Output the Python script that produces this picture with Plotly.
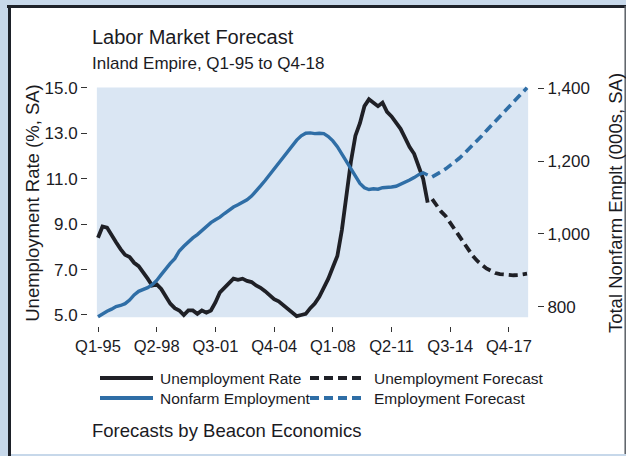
import plotly.graph_objects as go

# ---------------- data ----------------
QUARTERS = [f"Q{q}-{y % 100:02d}" for y in range(1995, 2019) for q in range(1, 5)]
TICK_LABELS = ["Q1-95", "Q2-98", "Q3-01", "Q4-04", "Q1-08", "Q2-11", "Q3-14", "Q4-17"]
LEFT_TICKS = [5.0, 7.0, 9.0, 11.0, 13.0, 15.0]
RIGHT_TICKS = [800, 1000, 1200, 1400]

UNEMP_ACTUAL = [
    8.4, 8.9, 8.85, 8.5, 8.2, 7.9, 7.65, 7.55, 7.3, 7.15,
    6.9, 6.6, 6.3, 6.35, 6.15, 5.85, 5.5, 5.3, 5.2, 5.0,
    5.2, 5.2, 5.05, 5.2, 5.1, 5.2, 5.55, 6.0, 6.2, 6.35,
    6.6, 6.55, 6.6, 6.5, 6.45, 6.3, 6.2, 6.05, 5.85, 5.7,
    5.6, 5.45, 5.3, 5.15, 4.95, 5.0, 5.05, 5.3, 5.5, 5.8,
    6.2, 6.6, 7.1, 7.6, 8.74, 10.3, 11.75, 12.9, 13.45, 14.2,
    14.5, 14.35, 14.2, 14.35, 13.95, 13.75, 13.5, 13.2, 12.8, 12.4,
    12.1, 11.6, 11.0, 9.95,
]
UNEMP_FORECAST = [
    10.1, 9.8, 9.55, 9.35, 9.05, 8.75, 8.45, 8.15, 7.85, 7.6,
    7.38, 7.2, 7.05, 6.95, 6.85, 6.8, 6.77, 6.75, 6.75, 6.76,
    6.8, 6.82,
]
EMP_ACTUAL = [
    772, 780, 787, 793, 800, 803, 808, 818, 832, 842,
    846, 852, 860, 872, 888, 905, 919, 932, 953, 966,
    979, 989, 998, 1010, 1022, 1031, 1039, 1046, 1056, 1066,
    1074, 1080, 1087, 1094, 1104, 1117, 1132, 1147, 1163, 1179,
    1194, 1210, 1226, 1242, 1258, 1270, 1277, 1278, 1276, 1277,
    1276, 1268, 1256, 1240, 1220, 1198, 1177, 1157, 1139, 1127,
    1122, 1124, 1123, 1127, 1127, 1129, 1131, 1136, 1142, 1148,
    1155, 1163, 1168, 1162,
]
EMP_FORECAST = [
    1157, 1163, 1171, 1179, 1188, 1198, 1208, 1220, 1232, 1245,
    1257, 1270, 1284, 1297, 1309, 1322, 1335, 1348, 1362, 1377,
    1390, 1402,
]

N_ACT = len(UNEMP_ACTUAL)
X_ACT = QUARTERS[:N_ACT]
X_FC = QUARTERS[N_ACT:]

# ---------------- styling ----------------
FONT = "Liberation Sans, Arial, Helvetica, sans-serif"
TXT = "#1b1b1f"
BLACK = "#1f2026"
BLUE = "#2f6ea6"
DASH = "9px,5px"
W, H = 626, 456
L, R, T, B = 88, 537, 80, 326


def px2x(px):
    return (px - L) / (R - L)


def py2y(py):
    return (B - py) / (B - T)


fig = go.Figure()
fig.add_trace(go.Scatter(x=X_ACT, y=EMP_ACTUAL, mode="lines", yaxis="y2",
                         line=dict(color=BLUE, width=3.4), name="Nonfarm Employment",
                         showlegend=False))
fig.add_trace(go.Scatter(x=X_FC, y=EMP_FORECAST, mode="lines", yaxis="y2",
                         line=dict(color=BLUE, width=3.6, dash=DASH),
                         name="Employment Forecast", showlegend=False))
fig.add_trace(go.Scatter(x=X_ACT, y=UNEMP_ACTUAL, mode="lines",
                         line=dict(color=BLACK, width=3.8), name="Unemployment Rate",
                         showlegend=False))
fig.add_trace(go.Scatter(x=X_FC, y=UNEMP_FORECAST, mode="lines",
                         line=dict(color=BLACK, width=3.8, dash=DASH),
                         name="Unemployment Forecast", showlegend=False))

shapes = [
    # white panel with frame
    dict(type="rect", xref="paper", yref="paper", x0=px2x(9), x1=px2x(626),
         y0=py2y(454), y1=py2y(6), fillcolor="white", line=dict(width=0), layer="below"),
    dict(type="line", xref="paper", yref="paper", x0=px2x(7), x1=px2x(626),
         y0=py2y(6.5), y1=py2y(6.5), line=dict(color="#1d2129", width=3), layer="below"),
    dict(type="line", xref="paper", yref="paper", x0=px2x(9.5), x1=px2x(9.5),
         y0=py2y(5), y1=py2y(456), line=dict(color="#1d2129", width=3), layer="below"),
    dict(type="line", xref="paper", yref="paper", x0=px2x(625.2), x1=px2x(625.2),
         y0=py2y(6), y1=py2y(454), line=dict(color="#5a5f66", width=1.5), layer="below"),
    # plot-area shading
    dict(type="rect", xref="x", yref="y", x0=-0.25, x1=95.25, y0=4.9, y1=15.02,
         fillcolor="#dae6f3", line=dict(width=0), layer="below"),
]

# manual legend
leg_rows = [378, 398]
legend_items = [
    (0, 100, 153, 158, BLACK, "solid", "Unemployment Rate"),
    (0, 310, 366, 372, BLACK, DASH, "Unemployment Forecast"),
    (1, 100, 153, 158, BLUE, "solid", "Nonfarm Employment"),
    (1, 310, 366, 372, BLUE, DASH, "Employment Forecast"),
]
annotations = []
for row, xs, xe, xt, col, dash, label in legend_items:
    yy = py2y(leg_rows[row])
    shapes.append(dict(type="line", xref="paper", yref="paper", x0=px2x(xs), x1=px2x(xe),
                       y0=yy, y1=yy, line=dict(color=col, width=4, dash=dash)))
    annotations.append(dict(xref="paper", yref="paper", x=px2x(xt), y=yy, text=label,
                            showarrow=False, xanchor="left", yanchor="middle",
                            font=dict(family=FONT, size=15.5, color=TXT)))

annotations += [
    dict(xref="paper", yref="paper", x=px2x(90), y=py2y(37), text="Labor Market Forecast",
         showarrow=False, xanchor="left", yanchor="middle",
         font=dict(family=FONT, size=20, color=TXT)),
    dict(xref="paper", yref="paper", x=px2x(90), y=py2y(63),
         text="Inland Empire, Q1-95 to Q4-18", showarrow=False, xanchor="left",
         yanchor="middle", font=dict(family=FONT, size=17, color=TXT)),
    dict(xref="paper", yref="paper", x=px2x(90), y=py2y(430),
         text="Forecasts by Beacon Economics", showarrow=False, xanchor="left",
         yanchor="middle", font=dict(family=FONT, size=18.5, color=TXT)),
]

fig.update_layout(
    width=W, height=H,
    margin=dict(l=L, r=W - R, t=T, b=H - B, pad=0, autoexpand=False),
    paper_bgcolor="#c7d8ea",
    plot_bgcolor="rgba(0,0,0,0)",
    font=dict(family=FONT, size=16, color=TXT),
    showlegend=False,
    shapes=shapes,
    annotations=annotations,
    xaxis=dict(
        type="category", range=[-2.214, 97.21], automargin=False,
        tickmode="array", tickvals=TICK_LABELS, ticktext=TICK_LABELS,
        ticks="outside", ticklen=5, tickwidth=1.3, tickcolor="#333",
        showgrid=False, zeroline=False, showline=False,
        tickfont=dict(family=FONT, size=16.5, color=TXT),
    ),
    yaxis=dict(
        range=[4.515, 15.352], tickmode="array", tickvals=LEFT_TICKS, automargin=False,
        ticktext=[f"{v:.1f}" for v in LEFT_TICKS],
        ticks="outside", ticklen=6, tickwidth=1.3, tickcolor="#333",
        showgrid=False, zeroline=False, showline=False,
        tickfont=dict(family=FONT, size=17, color=TXT),
        title=dict(text="Unemployment Rate (%, SA)", standoff=0,
                   font=dict(family=FONT, size=18.5, color=TXT)),
    ),
    yaxis2=dict(
        overlaying="y", side="right", range=[746.6, 1423.4], automargin=False,
        tickmode="array", tickvals=RIGHT_TICKS,
        ticktext=[f"{v:,}" for v in RIGHT_TICKS],
        ticks="outside", ticklen=6, tickwidth=1.3, tickcolor="#333",
        showgrid=False, zeroline=False, showline=False,
        tickfont=dict(family=FONT, size=17, color=TXT),
        title=dict(text="Total Nonfarm Emplt (000s, SA)", standoff=20,
                   font=dict(family=FONT, size=18.5, color=TXT)),
    ),
)

fig.write_html("out.html")
